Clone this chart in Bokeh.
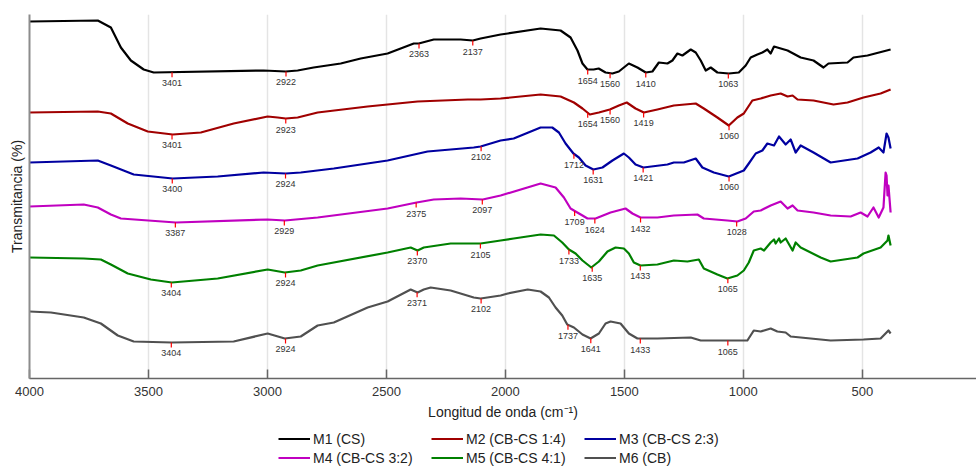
import numpy as np
from bokeh.plotting import figure
from bokeh.layouts import column
from bokeh.models import Range1d, FixedTicker, Legend, LegendItem, ColumnDataSource
from bokeh.core.properties import value
from bokeh.embed import file_html
from bokeh.resources import INLINE

series_names = ["M1 (CS)", "M2 (CB-CS 1:4)", "M3 (CB-CS 2:3)",
                "M4 (CB-CS 3:2)", "M5 (CB-CS 4:1)", "M6 (CB)"]
colors = ["#000000", "#A00000", "#0000A0", "#C000C0", "#008000", "#505050"]
x_ticks = [4000, 3500, 3000, 2500, 2000, 1500, 1000, 500]

m1_wn = [4000, 3713, 3658, 3616, 3574, 3520, 3478, 3016, 2923, 2873, 2806, 2692, 2608, 2495, 2385, 2364, 2301, 2188, 2137, 2104, 2020, 1990, 1852, 1768, 1726, 1697, 1676, 1655, 1629, 1608, 1579, 1550, 1523, 1481, 1445, 1410, 1382, 1355, 1319, 1298, 1277, 1256, 1221, 1200, 1179, 1158, 1137, 1109, 1061, 1019, 990, 969, 941, 920, 899, 885, 871, 814, 759, 705, 663, 642, 562, 537, 478, 381]
m1_t = [357, 358, 351, 331, 318, 309, 306, 308, 307, 308, 311, 315, 320, 325, 335, 335, 339, 339, 338, 340, 344, 345, 350, 348, 341, 328, 315, 309, 309, 310, 306, 305, 307, 315, 311, 306, 307, 316, 315, 318, 325, 323, 329, 326, 318, 308, 311, 306, 305, 306, 313, 321, 324, 326, 329, 325, 332, 328, 321, 318, 311, 315, 316, 321, 323, 329]
m1_peaks = [3401, 2922, 2363, 2137, 1654, 1560, 1410, 1063]

m2_wn = [4000, 3713, 3658, 3587, 3503, 3398, 3280, 3142, 2999, 2957, 2923, 2873, 2789, 2579, 2369, 2158, 2104, 2020, 1852, 1768, 1712, 1676, 1645, 1607, 1561, 1523, 1490, 1453, 1418, 1361, 1292, 1200, 1166, 1109, 1061, 1025, 998, 962, 927, 885, 843, 814, 793, 772, 705, 621, 562, 495, 423, 381]
m2_t = [266, 267, 265, 255, 247, 244, 246, 255, 262, 261, 260, 261, 266, 272, 277, 279, 279, 280, 284, 282, 276, 270, 264, 266, 269, 273, 276, 270, 266, 269, 273, 275, 270, 261, 253, 261, 265, 278, 280, 283, 285, 282, 283, 279, 278, 274, 276, 281, 285, 289]
m2_peaks = [3401, 2923, 1654, 1560, 1419, 1060]

m3_wn = [4000, 3713, 3658, 3562, 3398, 3209, 3016, 2923, 2860, 2721, 2495, 2327, 2133, 2104, 2020, 1965, 1852, 1803, 1775, 1747, 1714, 1691, 1663, 1630, 1592, 1550, 1502, 1481, 1453, 1420, 1319, 1292, 1250, 1200, 1172, 1124, 1061, 998, 977, 948, 920, 899, 871, 850, 822, 801, 780, 759, 705, 633, 520, 465, 431, 411, 398, 390, 381]
m3_t = [216, 218, 213, 204, 200, 202, 206, 205, 206, 210, 218, 227, 231, 232, 238, 240, 251, 251, 246, 235, 225, 221, 213, 209, 211, 218, 225, 221, 214, 211, 214, 216, 216, 220, 211, 206, 202, 208, 215, 225, 228, 235, 233, 242, 234, 239, 226, 233, 226, 216, 220, 226, 231, 226, 245, 241, 230]
m3_peaks = [3400, 2924, 2102, 1712, 1631, 1421, 1060]

m4_wn = [4000, 3772, 3713, 3658, 3616, 3385, 2999, 2927, 2789, 2495, 2373, 2301, 2188, 2095, 2020, 1852, 1789, 1754, 1726, 1705, 1676, 1655, 1621, 1558, 1495, 1466, 1432, 1361, 1292, 1193, 1166, 1067, 1025, 990, 956, 927, 885, 843, 814, 793, 772, 705, 633, 549, 507, 478, 453, 431, 411, 402, 398, 394, 390, 381]
m4_t = [172, 174, 171, 164, 160, 156, 159, 158, 161, 170, 176, 179, 180, 179, 183, 195, 191, 181, 170, 167, 163, 160, 160, 166, 170, 165, 161, 161, 163, 164, 160, 158, 157, 160, 167, 168, 173, 177, 170, 173, 168, 166, 163, 162, 166, 162, 171, 161, 171, 206, 203, 183, 193, 166]
m4_peaks = [3387, 2929, 2375, 2097, 1709, 1624, 1432, 1028]

m5_wn = [4000, 3772, 3700, 3658, 3587, 3490, 3402, 3209, 2999, 2927, 2860, 2789, 2495, 2398, 2369, 2343, 2230, 2104, 2020, 1965, 1852, 1796, 1761, 1733, 1705, 1676, 1639, 1607, 1571, 1537, 1502, 1481, 1460, 1432, 1361, 1292, 1235, 1187, 1166, 1109, 1067, 1025, 998, 977, 956, 927, 913, 885, 871, 864, 850, 843, 822, 793, 780, 759, 675, 633, 520, 495, 423, 394, 390, 381]
m5_t = [121, 120, 119, 114, 105, 99, 96, 100, 109, 106, 108, 113, 126, 131, 128, 131, 135, 135, 138, 140, 144, 143, 136, 129, 125, 118, 111, 117, 127, 131, 130, 125, 116, 113, 114, 118, 117, 119, 110, 104, 100, 103, 108, 116, 128, 130, 128, 136, 139, 135, 140, 136, 140, 128, 136, 131, 121, 117, 121, 125, 131, 138, 143, 133]
m5_peaks = [3404, 2924, 2370, 2105, 1733, 1635, 1433, 1065]

m6_wn = [4000, 3910, 3772, 3700, 3629, 3562, 3402, 3142, 2999, 2927, 2860, 2789, 2721, 2579, 2495, 2398, 2369, 2343, 2314, 2230, 2133, 2104, 2020, 1990, 1906, 1852, 1817, 1789, 1761, 1740, 1712, 1676, 1642, 1607, 1579, 1558, 1516, 1481, 1445, 1361, 1221, 1179, 983, 956, 927, 885, 857, 822, 801, 759, 633, 495, 423, 390, 381]
m6_t = [67, 66, 61, 55, 43, 37, 36, 37, 45, 40, 42, 53, 56, 71, 77, 89, 86, 89, 91, 88, 81, 80, 83, 85, 89, 87, 81, 71, 63, 54, 51, 44, 40, 45, 55, 57, 55, 45, 40, 40, 41, 38, 38, 48, 47, 50, 47, 46, 42, 41, 38, 39, 40, 48, 45]
m6_peaks = [3404, 2924, 2371, 2102, 1737, 1641, 1433, 1065]

series = [(m1_wn, m1_t, m1_peaks), (m2_wn, m2_t, m2_peaks), (m3_wn, m3_t, m3_peaks),
          (m4_wn, m4_t, m4_peaks), (m5_wn, m5_t, m5_peaks), (m6_wn, m6_t, m6_peaks)]

FONT = "Liberation Sans"

p = figure(width=976, height=424, output_backend="svg", toolbar_location=None,
           x_range=Range1d(4000, 20), y_range=Range1d(0, 364),
           min_border_left=29, min_border_right=0, min_border_top=14, min_border_bottom=46)
p.outline_line_color = None
p.background_fill_color = "white"

p.xaxis.ticker = FixedTicker(ticks=x_ticks)
p.xaxis.major_tick_in = 9
p.xaxis.major_tick_out = 0
p.xaxis.minor_tick_line_color = None
p.xaxis.axis_line_color = "#666666"
p.xaxis.axis_line_width = 1.5
p.xaxis.major_tick_line_color = "#666666"
p.xaxis.major_tick_line_width = 1.5
p.xaxis.major_label_text_font = FONT
p.xaxis.major_label_text_font_size = "13px"
p.xaxis.major_label_text_color = "#333333"
p.xaxis.major_label_standoff = 8
p.xaxis.axis_label = "Longitud de onda (cm\u207b\u00b9)"
p.xaxis.axis_label_text_font = FONT
p.xaxis.axis_label_text_font_size = "14px"
p.xaxis.axis_label_text_font_style = "normal"
p.xaxis.axis_label_text_color = "#222222"
p.xaxis.axis_label_standoff = 5

p.yaxis.ticker = FixedTicker(ticks=[])
p.yaxis.major_tick_in = 0
p.yaxis.major_tick_out = 0
p.yaxis.minor_tick_line_color = None
p.yaxis.axis_line_color = "#8c8c8c"
p.yaxis.axis_line_width = 2
p.yaxis.axis_label = "Transmitancia (%)"
p.yaxis.axis_label_text_font = FONT
p.yaxis.axis_label_text_font_size = "14px"
p.yaxis.axis_label_text_font_style = "normal"
p.yaxis.axis_label_text_color = "#222222"
p.yaxis.axis_label_standoff = 5

p.xgrid.ticker = FixedTicker(ticks=x_ticks)
p.xgrid.grid_line_color = "#e4e4e4"
p.xgrid.grid_line_width = 1.5
p.ygrid.visible = False

# legend strip (separate small figure below the chart)
pl = figure(width=976, height=42, output_backend="svg", toolbar_location=None,
            x_range=Range1d(0, 1), y_range=Range1d(0, 1),
            x_axis_location=None, y_axis_location=None,
            min_border_left=0, min_border_right=0, min_border_top=0, min_border_bottom=0)
pl.outline_line_color = None
pl.grid.visible = False

items = []
for (wn, t, peaks), name, col in zip(series, series_names, colors):
    p.line(wn, t, line_color=col, line_width=2.2, line_join="round")
    # legend-only renderer, kept outside the visible range of the legend strip
    rl = pl.line([-5, -4], [-5, -5], line_color=col, line_width=2.2)
    items.append(LegendItem(label=name, renderers=[rl]))
    wr = np.array(wn[::-1], dtype=float)
    tr = np.array(t[::-1], dtype=float)
    py = np.interp(np.array(peaks, dtype=float), wr, tr)
    src = ColumnDataSource(dict(x=peaks, y0=py, y1=py - 5,
                                lab=[str(v) for v in peaks]))
    p.segment(x0="x", y0="y0", x1="x", y1="y1", source=src,
              line_color="#ff0000", line_width=1.2)
    p.text(x="x", y="y0", text="lab", source=src, text_align="center",
           text_baseline="middle", y_offset=11, text_font=value(FONT),
           text_font_size="9px", text_color="#333333")

legend = Legend(items=items, orientation="horizontal", ncols=3, location=(249, 0),
                border_line_alpha=0, background_fill_alpha=0,
                label_text_font=FONT, label_text_font_size="14px",
                label_text_color="#222222",
                glyph_width=32, glyph_height=17, label_height=17,
                label_standoff=3, label_width=116, spacing=2,
                padding=0, margin=0)
pl.add_layout(legend)

open("out.html", "w").write(file_html(column(p, pl, spacing=0), INLINE))
